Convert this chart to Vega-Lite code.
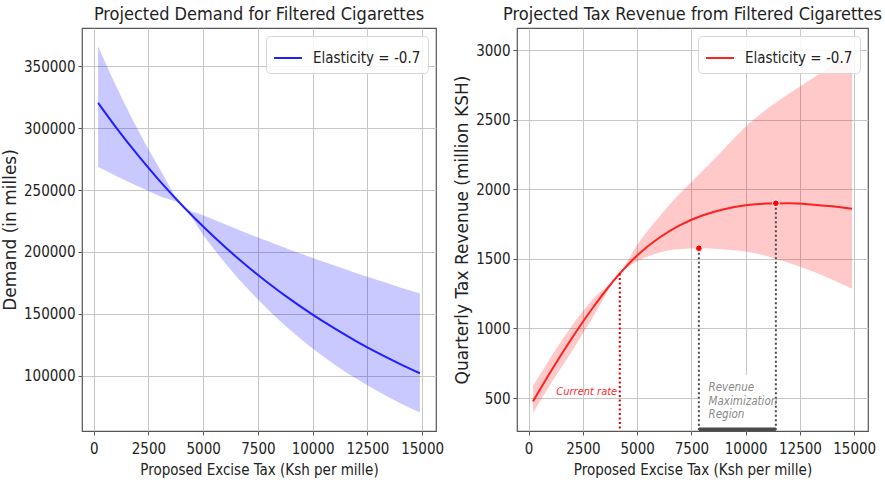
{
  "$schema": "https://vega.github.io/schema/vega-lite/v6.json",
  "background": "white",
  "padding": {"left": 0, "top": 5, "right": 0, "bottom": 0},
  "spacing": 8,
  "datasets": {
    "demand": [
      {"tax": 200, "demand": 320300, "lower": 268500, "upper": 366000},
      {"tax": 1000, "demand": 301000, "lower": 261600, "upper": 334700},
      {"tax": 2000, "demand": 278500, "lower": 253200, "upper": 299200},
      {"tax": 3000, "demand": 257600, "lower": 245100, "upper": 267500},
      {"tax": 4100, "demand": 236500, "lower": 236500, "upper": 236500},
      {"tax": 5000, "demand": 220500, "lower": 213800, "upper": 229700},
      {"tax": 6000, "demand": 204000, "lower": 191200, "upper": 222300},
      {"tax": 7000, "demand": 188700, "lower": 170900, "upper": 215200},
      {"tax": 8000, "demand": 174600, "lower": 152800, "upper": 208400},
      {"tax": 9000, "demand": 161500, "lower": 136600, "upper": 201700},
      {"tax": 10000, "demand": 149400, "lower": 122100, "upper": 195200},
      {"tax": 11000, "demand": 138300, "lower": 109200, "upper": 189000},
      {"tax": 12000, "demand": 127900, "lower": 97600, "upper": 182900},
      {"tax": 13000, "demand": 118300, "lower": 87300, "upper": 177100},
      {"tax": 14000, "demand": 109500, "lower": 78000, "upper": 171400},
      {"tax": 14900, "demand": 102100, "lower": 70500, "upper": 166500}
    ],
    "revenue": [
      {"tax": 200, "revenue": 476, "lower": 392, "upper": 586},
      {"tax": 1000, "revenue": 686, "lower": 598, "upper": 788},
      {"tax": 2000, "revenue": 932, "lower": 837, "upper": 1022},
      {"tax": 3000, "revenue": 1158, "lower": 1091, "upper": 1217},
      {"tax": 4200, "revenue": 1395, "lower": 1395, "upper": 1395},
      {"tax": 5000, "revenue": 1525, "lower": 1481, "upper": 1600},
      {"tax": 6000, "revenue": 1650, "lower": 1545, "upper": 1800},
      {"tax": 7000, "revenue": 1744, "lower": 1572, "upper": 1975},
      {"tax": 8000, "revenue": 1812, "lower": 1577, "upper": 2130},
      {"tax": 9000, "revenue": 1857, "lower": 1568, "upper": 2290},
      {"tax": 10000, "revenue": 1885, "lower": 1553, "upper": 2450},
      {"tax": 11000, "revenue": 1898, "lower": 1520, "upper": 2580},
      {"tax": 12000, "revenue": 1900, "lower": 1470, "upper": 2690},
      {"tax": 13000, "revenue": 1892, "lower": 1415, "upper": 2790},
      {"tax": 14000, "revenue": 1878, "lower": 1350, "upper": 2895},
      {"tax": 14900, "revenue": 1860, "lower": 1285, "upper": 3000}
    ],
    "markers": [
      {"tax": 7844, "revenue": 1577},
      {"tax": 11390, "revenue": 1900}
    ],
    "current": [
      {"tax": 4200, "revenue": 1395}
    ],
    "region": [
      {"start": 7844, "end": 11390}
    ]
  },
  "resolve": {"scale": {"color": "independent"}, "legend": {"color": "independent"}},
  "config": {
    "font": "DejaVu Sans Condensed, DejaVu Sans, sans-serif",
    "view": {"stroke": "#555555", "strokeWidth": 1.2},
    "axis": {
      "grid": true,
      "gridColor": "#c6c6c6",
      "gridWidth": 1,
      "domain": false,
      "ticks": true,
      "tickColor": "#555555",
      "tickSize": 4,
      "labelFont": "DejaVu Sans Condensed, DejaVu Sans, sans-serif",
      "labelFontSize": 15,
      "labelColor": "#222222",
      "labelPadding": 3,
      "titleFontWeight": "normal",
      "titleColor": "#222222"
    },
    "axisX": {
      "titleFont": "DejaVu Sans Condensed, DejaVu Sans, sans-serif",
      "titleFontSize": 15,
      "titlePadding": 6,
      "labelPadding": 6,
      "labelFlush": false
    },
    "axisY": {
      "titleFont": "DejaVu Sans",
      "titleFontSize": 17,
      "titlePadding": 4
    },
    "title": {
      "font": "DejaVu Sans Condensed, DejaVu Sans, sans-serif",
      "fontSize": 18,
      "fontWeight": "normal",
      "color": "#222222",
      "offset": 4
    },
    "legend": {
      "orient": "top-right",
      "offset": 8,
      "fillColor": "rgba(255,255,255,0.85)",
      "strokeColor": "#d6d6d6",
      "padding": 7,
      "cornerRadius": 4,
      "symbolType": "stroke",
      "symbolSize": 784,
      "symbolStrokeWidth": 2,
      "labelFont": "DejaVu Sans Condensed, DejaVu Sans, sans-serif",
      "labelFontSize": 15,
      "labelColor": "#222222",
      "labelOffset": 10
    }
  },
  "hconcat": [
    {
      "width": 354,
      "height": 403,
      "title": "Projected Demand for Filtered Cigarettes",
      "layer": [
        {
          "data": {"name": "demand"},
          "mark": {"type": "area", "color": "#0000ff", "opacity": 0.21, "interpolate": "monotone"},
          "encoding": {
            "x": {"field": "tax", "type": "quantitative", "scale": {"domain": [-535, 15635], "nice": false, "zero": false},
                  "axis": {"values": [0, 2500, 5000, 7500, 10000, 12500, 15000], "format": "d", "title": "Proposed Excise Tax (Ksh per mille)"}},
            "y": {"field": "lower", "type": "quantitative", "scale": {"domain": [55500, 380800], "nice": false, "zero": false},
                  "axis": {"values": [100000, 150000, 200000, 250000, 300000, 350000], "format": "d", "title": "Demand (in milles)"}},
            "y2": {"field": "upper"}
          }
        },
        {
          "data": {"name": "demand"},
          "mark": {"type": "line", "strokeWidth": 2, "interpolate": "monotone"},
          "encoding": {
            "x": {"field": "tax", "type": "quantitative"},
            "y": {"field": "demand", "type": "quantitative"},
            "color": {"datum": "Elasticity = -0.7", "type": "nominal", "scale": {"domain": ["Elasticity = -0.7"], "range": ["#1f1fff"]}, "legend": {"title": null}}
          }
        }
      ]
    },
    {
      "width": 351,
      "height": 403,
      "title": "Projected Tax Revenue from Filtered Cigarettes",
      "layer": [
        {
          "data": {"name": "revenue"},
          "mark": {"type": "area", "color": "#ff0000", "opacity": 0.21, "interpolate": "monotone"},
          "encoding": {
            "x": {"field": "tax", "type": "quantitative", "scale": {"domain": [-535, 15635], "nice": false, "zero": false},
                  "axis": {"values": [0, 2500, 5000, 7500, 10000, 12500, 15000], "format": "d", "title": "Proposed Excise Tax (Ksh per mille)"}},
            "y": {"field": "lower", "type": "quantitative", "scale": {"domain": [263, 3160], "nice": false, "zero": false},
                  "axis": {"values": [500, 1000, 1500, 2000, 2500, 3000], "format": "d", "title": "Quarterly Tax Revenue (million KSH)"}},
            "y2": {"field": "upper"}
          }
        },
        {
          "data": {"name": "region"},
          "mark": {"type": "rect", "color": "white", "opacity": 1},
          "encoding": {
            "x": {"field": "start", "type": "quantitative"},
            "x2": {"field": "end"},
            "y": {"datum": 268, "type": "quantitative"},
            "y2": {"datum": 665}
          }
        },
        {
          "data": {"name": "revenue"},
          "mark": {"type": "line", "strokeWidth": 2, "interpolate": "monotone"},
          "encoding": {
            "x": {"field": "tax", "type": "quantitative"},
            "y": {"field": "revenue", "type": "quantitative"},
            "color": {"datum": "Elasticity = -0.7", "type": "nominal", "scale": {"domain": ["Elasticity = -0.7"], "range": ["#ff2020"]}, "legend": {"title": null}}
          }
        },
        {
          "data": {"name": "current"},
          "mark": {"type": "rule", "color": "#d40000", "strokeWidth": 2, "strokeDash": [2, 2.5]},
          "encoding": {
            "x": {"field": "tax", "type": "quantitative"},
            "y": {"field": "revenue", "type": "quantitative"},
            "y2": {"datum": 270}
          }
        },
        {
          "data": {"name": "markers"},
          "mark": {"type": "rule", "color": "#4a4a4a", "strokeWidth": 2, "strokeDash": [2, 2.5]},
          "encoding": {
            "x": {"field": "tax", "type": "quantitative"},
            "y": {"field": "revenue", "type": "quantitative"},
            "y2": {"datum": 270}
          }
        },
        {
          "data": {"name": "markers"},
          "mark": {"type": "point", "filled": true, "color": "#ff0000", "size": 45, "stroke": "white", "strokeWidth": 1, "opacity": 1},
          "encoding": {
            "x": {"field": "tax", "type": "quantitative"},
            "y": {"field": "revenue", "type": "quantitative"}
          }
        },
        {
          "data": {"name": "region"},
          "mark": {"type": "rule", "color": "#4a4a4a", "strokeWidth": 3.5},
          "encoding": {
            "x": {"field": "start", "type": "quantitative"},
            "x2": {"field": "end"},
            "y": {"datum": 275, "type": "quantitative"}
          }
        },
        {
          "data": {"values": [{"note": "Current rate"}]},
          "mark": {"type": "text", "align": "right", "baseline": "middle", "fontStyle": "italic", "fontSize": 11, "color": "#ff2a2a", "font": "DejaVu Sans Condensed, DejaVu Sans, sans-serif"},
          "encoding": {
            "x": {"datum": 4080, "type": "quantitative"},
            "y": {"datum": 545, "type": "quantitative"},
            "text": {"field": "note"}
          }
        },
        {
          "data": {"values": [{"note": "Revenue\nMaximization\nRegion"}]},
          "mark": {"type": "text", "align": "left", "baseline": "middle", "fontStyle": "italic", "fontSize": 11.5, "color": "#8a8a8a", "lineBreak": "\n", "lineHeight": 13.5, "font": "DejaVu Sans Condensed, DejaVu Sans, sans-serif"},
          "encoding": {
            "x": {"datum": 8289, "type": "quantitative"},
            "y": {"datum": 572, "type": "quantitative"},
            "text": {"field": "note"}
          }
        }
      ]
    }
  ]
}
